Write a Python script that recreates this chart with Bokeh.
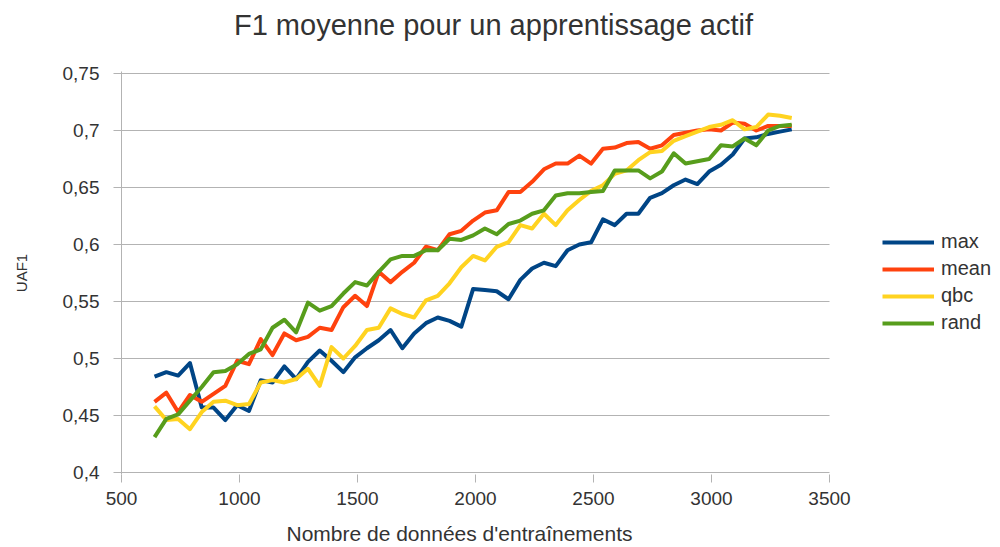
from bokeh.plotting import figure
from bokeh.models import Legend, FixedTicker, CustomJSTickFormatter, Label
from bokeh.embed import file_html
from bokeh.resources import INLINE

x_sizes = [640, 690, 740, 790, 840, 890, 940, 990, 1040, 1090,
           1140, 1190, 1240, 1290, 1340, 1390, 1440, 1490, 1540, 1590,
           1640, 1690, 1740, 1790, 1840, 1890, 1940, 1990, 2040, 2090,
           2140, 2190, 2240, 2290, 2340, 2390, 2440, 2490, 2540, 2590,
           2640, 2690, 2740, 2790, 2840, 2890, 2940, 2990, 3040, 3090,
           3140, 3190, 3240, 3290, 3340]

f1_max = [0.484, 0.488, 0.485, 0.496, 0.457, 0.457, 0.446, 0.459, 0.454, 0.481,
          0.479, 0.493, 0.482, 0.497, 0.507, 0.498, 0.488, 0.501, 0.509, 0.516,
          0.525, 0.509, 0.522, 0.531, 0.536, 0.533, 0.528, 0.561, 0.560, 0.559,
          0.552, 0.569, 0.579, 0.584, 0.581, 0.595, 0.600, 0.602, 0.622, 0.617,
          0.627, 0.627, 0.641, 0.645, 0.652, 0.657, 0.653, 0.664, 0.670, 0.679,
          0.693, 0.694, 0.697, 0.699, 0.701]

f1_mean = [0.462, 0.470, 0.453, 0.468, 0.462, 0.469, 0.476, 0.498, 0.495, 0.517,
           0.503, 0.522, 0.516, 0.519, 0.527, 0.525, 0.545, 0.555, 0.546, 0.576,
           0.567, 0.576, 0.584, 0.598, 0.595, 0.609, 0.612, 0.621, 0.628, 0.630,
           0.646, 0.646, 0.655, 0.666, 0.671, 0.671, 0.678, 0.671, 0.684, 0.685,
           0.689, 0.690, 0.684, 0.687, 0.696, 0.698, 0.700, 0.701, 0.700, 0.707,
           0.706, 0.700, 0.704, 0.704, 0.704]

f1_qbc = [0.458, 0.446, 0.447, 0.438, 0.453, 0.462, 0.463, 0.459, 0.460, 0.479,
          0.481, 0.479, 0.482, 0.491, 0.476, 0.510, 0.500, 0.511, 0.525, 0.527,
          0.544, 0.539, 0.536, 0.551, 0.555, 0.566, 0.580, 0.590, 0.586, 0.598,
          0.602, 0.617, 0.614, 0.627, 0.617, 0.630, 0.639, 0.647, 0.652, 0.662,
          0.665, 0.674, 0.681, 0.682, 0.691, 0.695, 0.699, 0.703, 0.705, 0.709,
          0.701, 0.703, 0.714, 0.713, 0.711]

f1_rand = [0.431, 0.447, 0.451, 0.463, 0.475, 0.488, 0.489, 0.495, 0.504, 0.508,
           0.527, 0.534, 0.523, 0.549, 0.542, 0.546, 0.557, 0.567, 0.564, 0.576,
           0.587, 0.590, 0.590, 0.595, 0.595, 0.605, 0.604, 0.608, 0.614, 0.609,
           0.618, 0.621, 0.627, 0.630, 0.643, 0.645, 0.645, 0.646, 0.647, 0.665,
           0.665, 0.665, 0.658, 0.664, 0.680, 0.671, 0.673, 0.675, 0.687, 0.686,
           0.693, 0.687, 0.700, 0.704, 0.705]

series_names = ["max", "mean", "qbc", "rand"]
series_colors = ["#004586", "#ff420e", "#ffd320", "#579d1c"]

x_ticks = [500, 1000, 1500, 2000, 2500, 3000, 3500]
y_ticks = [0.4, 0.45, 0.5, 0.55, 0.6, 0.65, 0.7, 0.75]

title_text = "F1 moyenne pour un apprentissage actif"
x_label_text = "Nombre de données d'entraînements"
y_label_text = "UAF1"

FONT = "Liberation Sans"
TXT = "#333333"
GRID = "#b3b3b3"

W, H = 996, 547
LEFT, TOP, BOTTOM = 121, 71, 474
x0, x1 = x_ticks[0], x_ticks[-1]
y0, y1 = y_ticks[0], y_ticks[-1]
px_per_x = 708 / (x1 - x0)
px_per_y = 399 / (y1 - y0)
x_end = x0 + (W - LEFT) / px_per_x
pad_y = 2 / px_per_y

p = figure(width=W, height=H, output_backend="svg", toolbar_location=None,
           x_range=(x0, x_end), y_range=(y0 - pad_y, y1 + pad_y))
p.min_border_left = LEFT
p.min_border_right = 0
p.min_border_top = TOP
p.min_border_bottom = H - BOTTOM
p.outline_line_color = None
p.background_fill_color = "white"
p.border_fill_color = "white"
p.title.text = ""

# title: first panel above the frame (its panel bottom is the frame top)
p.add_layout(Label(x=372, y=47, x_units="screen", y_units="screen", text=title_text,
                   text_font=FONT, text_font_size="29px", text_color=TXT,
                   text_align="center", text_baseline="middle"), "above")

# x-axis label: second panel above (stacked over the title panel), drawn below the axis
p.add_layout(Label(x=338, y=-494, x_units="screen", y_units="screen", text=x_label_text,
                   text_font=FONT, text_font_size="21px", text_color=TXT,
                   text_align="center", text_baseline="middle"), "above")

p.xgrid.grid_line_color = None
p.ygrid.grid_line_color = None
p.segment(x0=[x0] * len(y_ticks), x1=[x1] * len(y_ticks), y0=y_ticks, y1=y_ticks,
          line_color=GRID, line_width=1)

p.xaxis.ticker = FixedTicker(ticks=x_ticks)
p.yaxis.ticker = FixedTicker(ticks=y_ticks)
p.yaxis.formatter = CustomJSTickFormatter(code="return (Math.round(tick*100)/100).toString().replace('.', ',');")

for ax in (p.xaxis[0], p.yaxis[0]):
    ax.axis_line_color = GRID
    ax.axis_line_width = 1
    ax.major_tick_line_color = GRID
    ax.major_tick_in = 0
    ax.major_tick_out = 8
    ax.minor_tick_line_color = None
    ax.major_label_text_font = FONT
    ax.major_label_text_font_size = "19px"
    ax.major_label_text_color = TXT
    ax.axis_label_text_font = FONT
    ax.axis_label_text_font_style = "normal"
    ax.axis_label_text_color = TXT
p.xaxis.axis_line_color = None
p.xaxis.major_label_standoff = 9
p.yaxis.major_label_standoff = 14
p.yaxis.axis_label = y_label_text
p.yaxis.axis_label_text_font_size = "15px"
p.yaxis.axis_label_standoff = 30

ys = [f1_max, f1_mean, f1_qbc, f1_rand]
items = []
for name, col, y in zip(series_names, series_colors, ys):
    r = p.line(x_sizes, y, line_color=col, line_width=4, line_join="round")
    items.append((name, [r]))

legend = Legend(items=items, location=(761, 140))
legend.background_fill_alpha = 0
legend.border_line_color = None
legend.padding = 0
legend.margin = 0
legend.spacing = 4
legend.glyph_width = 52
legend.glyph_height = 20
legend.label_height = 20
legend.label_standoff = 7
legend.label_text_font = FONT
legend.label_text_font_size = "20px"
legend.label_text_color = TXT
p.add_layout(legend, "center")

open("out.html", "w").write(file_html(p, INLINE))
